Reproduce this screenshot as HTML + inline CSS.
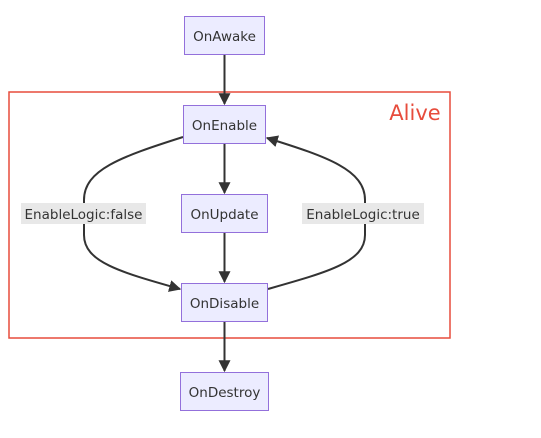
<!DOCTYPE html>
<html><head><meta charset="utf-8"><style>
body{margin:0;background:#fff;}
svg text{font-family:"DejaVu Sans","Liberation Sans",sans-serif;font-size:13.5px;fill:#333;}
</style></head><body>
<svg width="541" height="433" viewBox="0 0 541 433">
<defs><marker id="ah" viewBox="0 0 10 10" refX="9" refY="5" markerWidth="12" markerHeight="12" orient="auto-start-reverse" markerUnits="userSpaceOnUse"><path d="M0,0L10,5L0,10z" fill="#333"/></marker></defs>
<rect x="9" y="92" width="441" height="246" fill="none" stroke="#e74c3c" stroke-width="1.5"/>
<text x="415" y="120" text-anchor="middle" style="font-size:21px;fill:#e74c3c">Alive</text>
<g stroke="#333" stroke-width="2" fill="none">
<path d="M224.5,55 L224.5,104" marker-end="url(#ah)"/>
<path d="M224.5,144 L224.5,193" marker-end="url(#ah)"/>
<path d="M224.5,233 L224.5,282" marker-end="url(#ah)"/>
<path d="M224.5,322 L224.5,371" marker-end="url(#ah)"/>
<path d="M183,137 C120,157 84,170 84,200 L84,235 C84,262 120,272 180,289" marker-end="url(#ah)"/>
<path d="M268,289 C328,272 365,262 365,235 L365,200 C365,170 328,157 267,138" marker-end="url(#ah)"/>
</g>
<rect x="21" y="203" width="125" height="21" fill="#e8e8e8"/>
<text x="83.5" y="219" text-anchor="middle">EnableLogic:false</text>
<rect x="302" y="203" width="122" height="21" fill="#e8e8e8"/>
<text x="363" y="219" text-anchor="middle">EnableLogic:true</text>
<g fill="#ececff" stroke="#9370db" stroke-width="1">
<rect x="184.5" y="16.5" width="80" height="38"/>
<rect x="183.5" y="105.5" width="82" height="38"/>
<rect x="181.5" y="194.5" width="86" height="38"/>
<rect x="181.5" y="283.5" width="86" height="38"/>
<rect x="180.5" y="372.5" width="88" height="38"/>
</g>
<text x="224.5" y="41" text-anchor="middle">OnAwake</text>
<text x="224.5" y="130" text-anchor="middle">OnEnable</text>
<text x="224.5" y="219" text-anchor="middle">OnUpdate</text>
<text x="224.5" y="308" text-anchor="middle">OnDisable</text>
<text x="224.5" y="397" text-anchor="middle">OnDestroy</text>
</svg>
</body></html>
